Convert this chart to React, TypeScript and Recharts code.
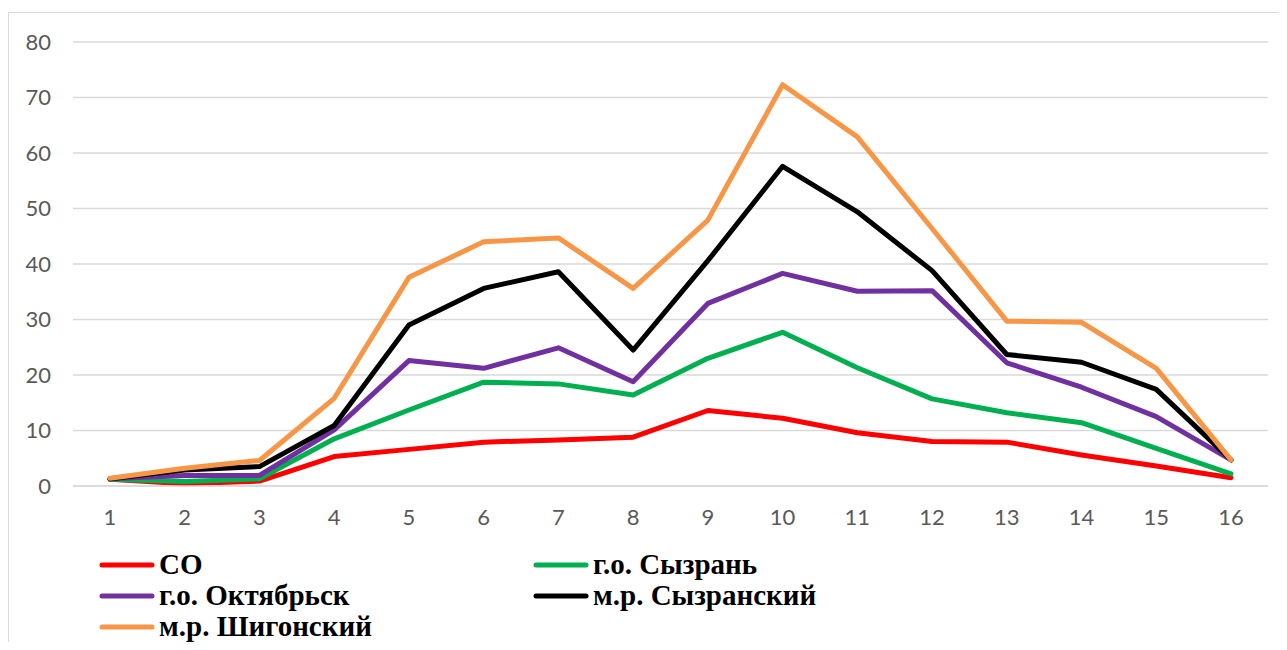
import React from 'react';
import { LineChart, Line, XAxis, YAxis, CartesianGrid, Legend } from 'recharts';

const categories = ['1', '2', '3', '4', '5', '6', '7', '8', '9', '10', '11', '12', '13', '14', '15', '16'];
const yTicks = [0, 10, 20, 30, 40, 50, 60, 70, 80];

const seriesNames = ['СО', 'г.о. Сызрань', 'г.о. Октябрьск', 'м.р. Сызранский', 'м.р. Шигонский'];
const seriesColors = ['#FF0000', '#00B050', '#7030A0', '#000000', '#F79646'];

const soValues = [1.2, 0.4, 0.9, 5.3, 6.6, 7.9, 8.3, 8.8, 13.6, 12.2, 9.6, 8.0, 7.9, 5.6, 3.6, 1.5];
const syzranValues = [1.2, 0.8, 1.3, 8.5, 13.7, 18.7, 18.4, 16.4, 23.0, 27.7, 21.3, 15.7, 13.2, 11.4, 6.8, 2.2];
const oktyabrskValues = [1.3, 1.9, 1.9, 10.1, 22.6, 21.2, 24.9, 18.8, 32.9, 38.3, 35.1, 35.2, 22.2, 17.8, 12.5, 4.7];
const syzranskyValues = [1.3, 2.9, 3.5, 10.9, 29.0, 35.6, 38.6, 24.5, 40.6, 57.6, 49.4, 38.8, 23.7, 22.3, 17.4, 4.7];
const shigonskyValues = [1.4, 3.2, 4.6, 15.8, 37.6, 44.0, 44.7, 35.6, 47.9, 72.3, 62.9, 46.4, 29.7, 29.5, 21.2, 4.7];

const seriesValues = [soValues, syzranValues, oktyabrskValues, syzranskyValues, shigonskyValues];
const seriesKeys = ['s0', 's1', 's2', 's3', 's4'];

const data = categories.map((c, i) => {
  const row: Record<string, string | number> = { x: c };
  seriesKeys.forEach((k, j) => {
    row[k] = seriesValues[j][i];
  });
  return row;
});

const renderLegend = (props: any) => {
  const payload = [...(props.payload || [])].sort(
    (a: any, b: any) => seriesNames.indexOf(a.value) - seriesNames.indexOf(b.value)
  );
  return (
    <div
      style={{
        display: 'grid',
        gridTemplateColumns: '434px auto',
        paddingLeft: 90,
        fontFamily: '"Liberation Serif", "Times New Roman", serif',
        fontWeight: 'bold',
        fontSize: 29,
        lineHeight: '31px',
        color: '#000',
        paddingTop: 13,
      }}
    >
      {payload.map((entry: any, i: number) => (
        <div key={i} style={{ display: 'flex', alignItems: 'center', whiteSpace: 'nowrap' }}>
          <svg width={56} height={8} style={{ marginRight: 4, flex: 'none' }}>
            <line x1={3} y1={4} x2={53} y2={4} stroke={entry.color} strokeWidth={5} strokeLinecap="round" />
          </svg>
          <span>{entry.value}</span>
        </div>
      ))}
    </div>
  );
};

export default function App() {
  return (
    <div
      style={{
        marginTop: 4,
        width: 1271,
        height: 630,
        borderTop: '1px solid #d9d9d9',
        borderLeft: '1px solid #d9d9d9',
        boxSizing: 'border-box',
        background: '#fff',
      }}
    >
      <LineChart width={1270} height={629} data={data} margin={{ top: 29, right: 11, left: 10, bottom: 6 }}>
        <CartesianGrid horizontal vertical={false} stroke="#d9d9d9" strokeWidth={1.5} />
        <XAxis
          dataKey="x"
          padding={{ left: 37, right: 37 }}
          axisLine={{ stroke: '#d9d9d9', strokeWidth: 1.5 }}
          tickLine={false}
          tickMargin={17}
          height={50}
          interval={0}
          tick={{ fill: '#595959', fontSize: 22, fontFamily: 'Lato, "Open Sans", sans-serif' }}
        />
        <YAxis
          domain={[0, 80]}
          ticks={yTicks}
          axisLine={false}
          tickLine={false}
          tickMargin={16}
          width={54}
          tick={{ fill: '#595959', fontSize: 22, fontFamily: 'Lato, "Open Sans", sans-serif' }}
        />
        <Legend
          verticalAlign="bottom"
          content={renderLegend}
          wrapperStyle={{ height: 100, left: 0, width: 1270 }}
        />
        {seriesKeys.map((k, j) => (
          <Line
            key={k}
            type="linear"
            dataKey={k}
            name={seriesNames[j]}
            stroke={seriesColors[j]}
            strokeWidth={5}
            strokeLinejoin="round"
            strokeLinecap="round"
            dot={false}
            activeDot={false}
            isAnimationActive={false}
          />
        ))}
      </LineChart>
    </div>
  );
}
